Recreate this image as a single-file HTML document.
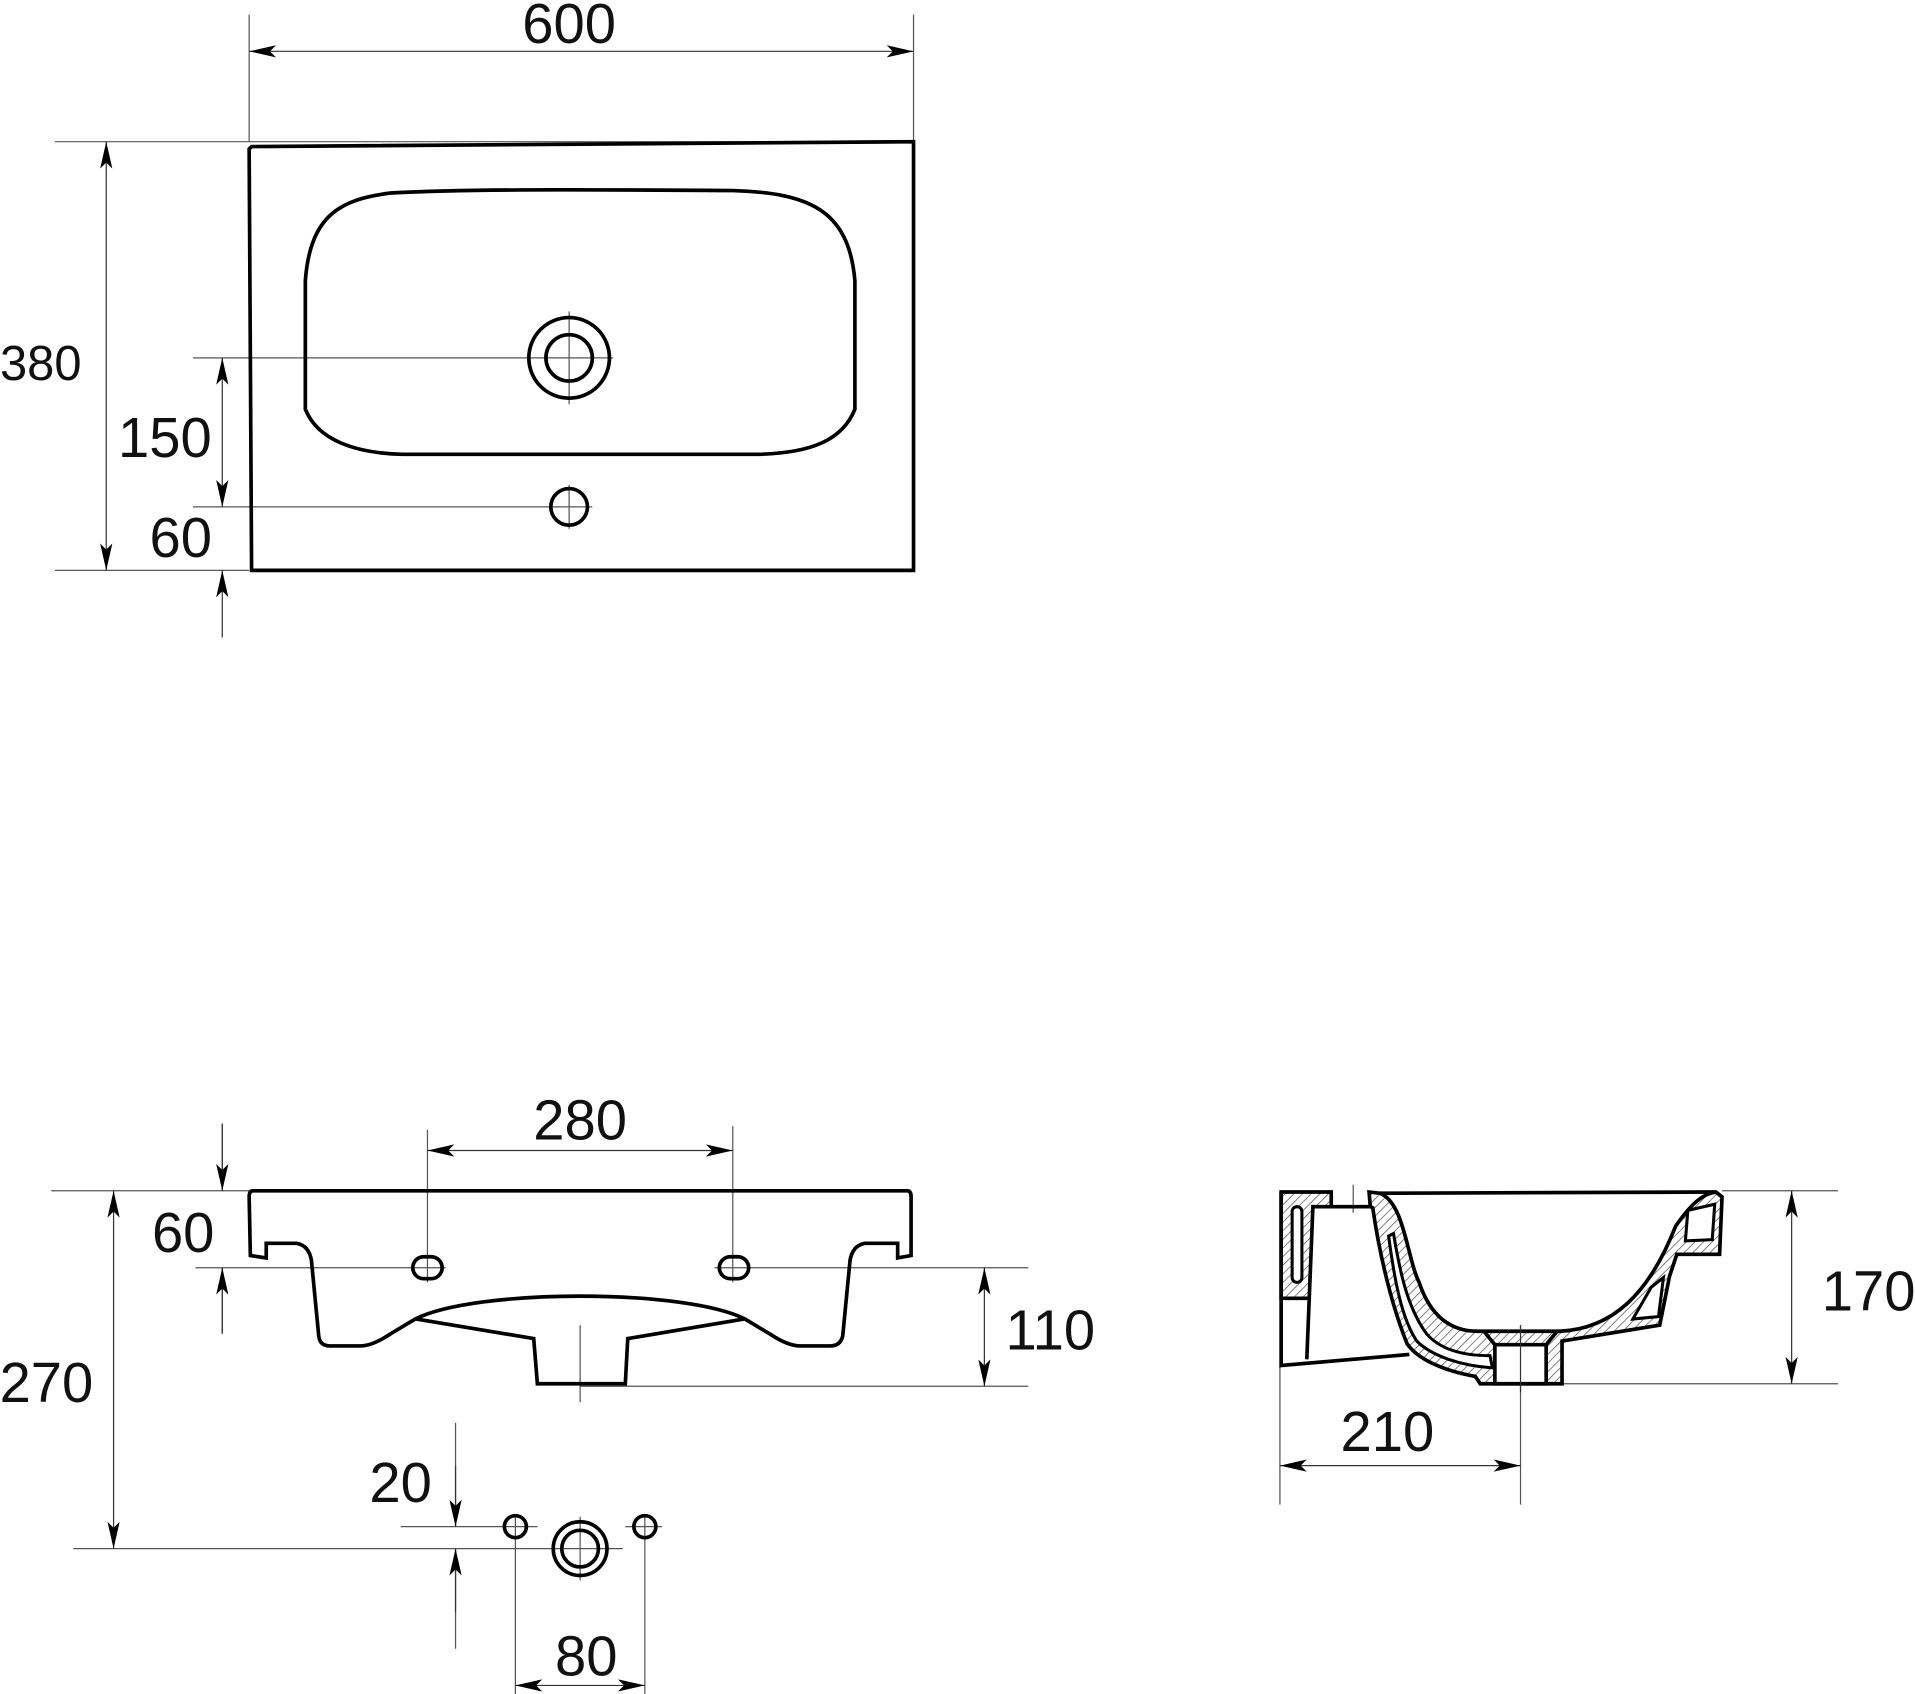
<!DOCTYPE html>
<html><head><meta charset="utf-8"><style>
html,body{margin:0;padding:0;background:#fff}
svg{display:block}
text{font-family:"Liberation Sans",sans-serif;fill:#111}
</style></head><body>
<svg width="1915" height="1694" viewBox="0 0 1568 1387" xmlns="http://www.w3.org/2000/svg">
<defs>
<marker id="a" viewBox="0 0 22 10" refX="22" refY="5" markerWidth="22" markerHeight="10" markerUnits="userSpaceOnUse" orient="auto-start-reverse"><path d="M0,0 L22,5 L0,10 L5,5 Z" fill="#000"/></marker>
<pattern id="h" patternUnits="userSpaceOnUse" width="5" height="5" patternTransform="rotate(45)"><rect width="5" height="5" fill="#fff"/><line x1="0" y1="0" x2="0" y2="5" stroke="#555" stroke-width="1.2"/></pattern>
</defs>
<g fill="none" stroke="#555" stroke-width="1">
<line x1="204" y1="12" x2="204" y2="116"/><line x1="748" y1="12" x2="748" y2="120"/>
<line x1="45" y1="116" x2="748" y2="116"/><line x1="45" y1="467" x2="204" y2="467"/>
<line x1="158" y1="293" x2="502" y2="293"/><line x1="158" y1="415" x2="485" y2="415"/>
<line x1="466" y1="255" x2="466" y2="331"/><line x1="466" y1="397" x2="466" y2="433"/>
<line x1="42" y1="975" x2="204" y2="975"/>
<line x1="160" y1="1038" x2="365" y2="1038"/><line x1="585" y1="1038" x2="842" y2="1038"/>
<line x1="350" y1="925" x2="350" y2="1050"/><line x1="600" y1="922" x2="600" y2="1050"/>
<line x1="475" y1="1135" x2="842" y2="1135"/><line x1="475" y1="1085" x2="475" y2="1148"/>
<line x1="60" y1="1268" x2="510" y2="1268"/>
<line x1="328" y1="1250" x2="440" y2="1250"/><line x1="512" y1="1250" x2="542" y2="1250"/>
<line x1="422" y1="1240" x2="422" y2="1387"/><line x1="528" y1="1240" x2="528" y2="1387"/>
<line x1="475" y1="1242" x2="475" y2="1294"/>
<line x1="373" y1="1165" x2="373" y2="1250"/><line x1="373" y1="1268" x2="373" y2="1350"/>
<line x1="182" y1="920" x2="182" y2="975"/><line x1="182" y1="1038" x2="182" y2="1092"/>
<line x1="1410" y1="975" x2="1505" y2="975"/><line x1="1278" y1="1133" x2="1505" y2="1133"/>
<line x1="1048" y1="1118" x2="1048" y2="1232"/><line x1="1245" y1="1085" x2="1245" y2="1232"/>
<line x1="1108" y1="970" x2="1108" y2="993"/>
</g>
<g stroke="#333" stroke-width="1" fill="none">
<line x1="204" y1="42" x2="748" y2="42" marker-start="url(#a)" marker-end="url(#a)"/>
<line x1="87" y1="116" x2="87" y2="467" marker-start="url(#a)" marker-end="url(#a)"/>
<line x1="182" y1="293" x2="182" y2="415" marker-start="url(#a)" marker-end="url(#a)"/>
<line x1="182" y1="522" x2="182" y2="467" marker-end="url(#a)"/>
<line x1="350" y1="942" x2="600" y2="942" marker-start="url(#a)" marker-end="url(#a)"/>
<line x1="182" y1="920" x2="182" y2="975" marker-end="url(#a)"/>
<line x1="182" y1="1092" x2="182" y2="1038" marker-end="url(#a)"/>
<line x1="93" y1="975" x2="93" y2="1268" marker-start="url(#a)" marker-end="url(#a)"/>
<line x1="806" y1="1038" x2="806" y2="1135" marker-start="url(#a)" marker-end="url(#a)"/>
<line x1="373" y1="1200" x2="373" y2="1250" marker-end="url(#a)"/>
<line x1="373" y1="1320" x2="373" y2="1268" marker-end="url(#a)"/>
<line x1="422" y1="1380" x2="528" y2="1380" marker-start="url(#a)" marker-end="url(#a)"/>
<line x1="1467" y1="975" x2="1467" y2="1133" marker-start="url(#a)" marker-end="url(#a)"/>
<line x1="1048" y1="1200" x2="1245" y2="1200" marker-start="url(#a)" marker-end="url(#a)"/>
</g>
<g fill="none" stroke="#000" stroke-width="3">
<path d="M206,120 L748,116 L748,467 L206,467 L204,122 Z"/>
<path d="M250,230 C254,175 280,163 320,158 C380,155 450,155 600,156 C660,158 695,170 700,230 L700,335 C690,360 665,371 620,372 L330,372 C290,371 260,360 250,335 Z"/>
<circle cx="466" cy="293" r="33"/><circle cx="466" cy="293" r="19"/>
<circle cx="466" cy="415" r="15"/>
</g>
<g fill="none" stroke="#000" stroke-width="3">
<path d="M207,975 L743,975 Q746,975 746,980 L746,1028 L735,1030 L735,1018 L708,1018 Q698,1020 696,1032 L690,1094 Q688,1102 680,1102 L655,1102 Q645,1102 630,1092 L610,1080 C560,1055 390,1055 340,1080 L320,1092 Q305,1102 295,1102 L270,1102 Q262,1102 261,1094 L255,1032 Q253,1020 243,1018 L218,1018 L218,1030 L205,1028 L204,980 Q204,975 207,975 Z"/>
<path d="M341,1080 L437,1096 L440,1133 L512,1133 L514,1096 L609,1080"/>
<rect x="338" y="1029" width="24" height="18" rx="9"/>
<rect x="589" y="1029" width="24" height="18" rx="9"/>
<circle cx="422" cy="1250" r="9"/><circle cx="528" cy="1250" r="9"/>
<circle cx="475" cy="1268" r="22"/><circle cx="475" cy="1268" r="15"/>
</g>
<g stroke="#000" stroke-width="3">
<path fill="url(#h)" d="M1049,976 L1090,976 L1090,988 L1075,988 L1072,1063 L1049,1063 Z"/>
<path fill="url(#h)" d="M1122,988 L1121,976 L1130,977 C1150,985 1152,1030 1162,1050 C1172,1080 1190,1090 1210,1090 L1277,1090 C1320,1088 1350,1060 1372,1004 C1385,985 1395,977 1405,976 L1410,980 L1408,1027 L1373,1027 L1367,1045 L1359,1085 L1279,1098 L1279,1133 L1212,1133 L1208,1127 C1180,1122 1160,1112 1152,1100 C1140,1070 1130,1030 1124,989 Z"/>
<path fill="#fff" d="M1224,1101 L1266,1101 L1266,1133 L1224,1133 Z"/>
<path fill="#fff" d="M1141,1010 C1146,1040 1152,1070 1168,1092 C1180,1106 1200,1110 1220,1110 L1222,1120 C1195,1118 1172,1110 1160,1098 C1148,1080 1142,1050 1137,1012 Z" stroke-width="2.5"/>
<rect x="1058" y="988" width="8" height="62" rx="4" fill="#fff" stroke-width="2.5"/>
<path fill="#fff" d="M1382,991 L1404,986 L1402,1015 L1380,1016 Z" stroke-width="2.5"/>
<path fill="#fff" d="M1352,1054 L1362,1046 L1358,1078 L1337,1080 Z" stroke-width="2.5"/>
<path fill="none" d="M1130,977 L1405,976 M1049,976 L1049,1118 L1154,1109 M1072,1063 L1070,1113 M1090,988 L1121,988 M1215,1090 L1224,1101 M1266,1101 L1275,1090"/>
</g>
<line x1="1245" y1="1085" x2="1245" y2="1140" stroke="#333" stroke-width="1"/>
<g font-size="46">
<text x="466" y="35" text-anchor="middle">600</text>
<text x="0" y="311" font-size="40">380</text>
<text x="135" y="374" text-anchor="middle">150</text>
<text x="148" y="456" text-anchor="middle">60</text>
<text x="475" y="933" text-anchor="middle">280</text>
<text x="150" y="1025" text-anchor="middle">60</text>
<text x="38" y="1148" text-anchor="middle">270</text>
<text x="860" y="1105" text-anchor="middle">110</text>
<text x="328" y="1230" text-anchor="middle">20</text>
<text x="480" y="1372" text-anchor="middle">80</text>
<text x="1530" y="1073" text-anchor="middle">170</text>
<text x="1136" y="1188" text-anchor="middle">210</text>
</g>
</svg>
</body></html>
